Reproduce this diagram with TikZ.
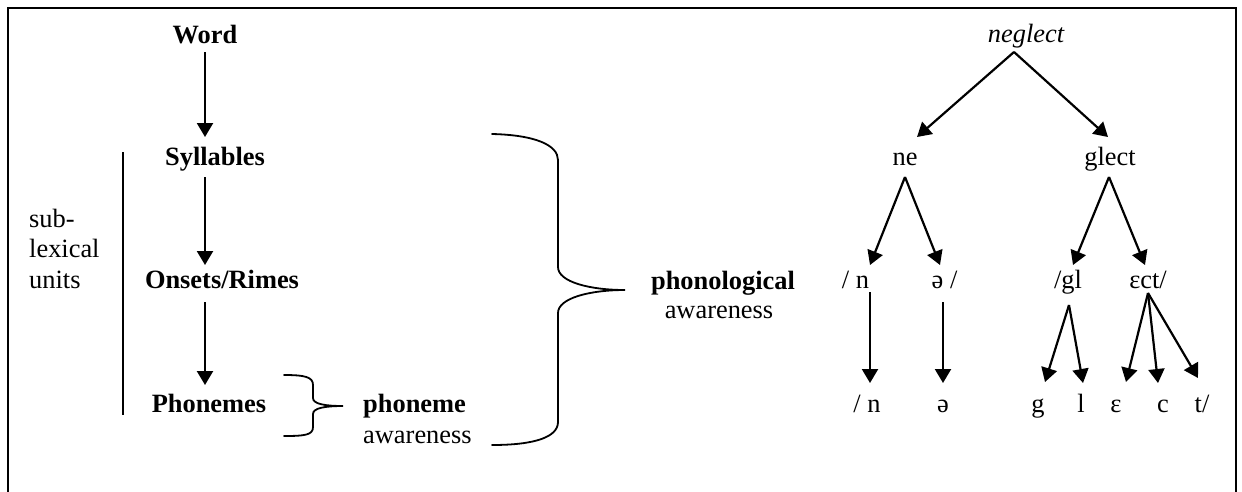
\documentclass[tikz,border=0pt]{standalone}
\usepackage{fontspec}
\setmainfont{Liberation Serif}
\usetikzlibrary{arrows.meta}
\begin{document}
\begin{tikzpicture}[x=1pt,y=-1pt,
  font=\fontsize{26.4}{30}\selectfont,
  arr/.style={line width=2.2pt,-{Triangle[width=16pt,length=14pt]}},
  lbl/.style={anchor=base,inner sep=0pt},
  lblw/.style={anchor=base west,inner sep=0pt},
  bracestyle/.style={line width=1.8pt,line cap=round}]
\useasboundingbox (0,0) rectangle (1242,491);
\draw[line width=2pt] (8,495) -- (8,8) -- (1236,8) -- (1236,495);

% left hierarchy
\node[lbl] (word) at (205,43) {\bfseries Word};
\node[lbl] (syl) at (215,165) {\bfseries Syllables};
\node[lbl] (ons) at (222,288) {\bfseries Onsets/Rimes};
\node[lbl] (phon) at (209,412) {\bfseries Phonemes};
\draw[arr] ([yshift=-9pt]word.base) -- ([xshift=-10pt,yshift=28pt]syl.base);
\draw[arr] ([xshift=-10pt,yshift=-12pt]syl.base) -- ([xshift=-17pt,yshift=23pt]ons.base);
\draw[arr] ([xshift=-17pt,yshift=-14pt]ons.base) -- ([xshift=-4pt,yshift=27pt]phon.base);

\draw[line width=1.4pt] (123,152) -- (123,415);
\node[lblw] (sub1) at (29,227) {sub-};
\node[lblw] (sub2) at (29,257) {lexical};
\node[lblw] (sub3) at (29,288) {units};

% small brace
\draw[bracestyle] (284,375) .. controls (305,375) and (313,377) .. (313,385)
  -- (313,398) .. controls (313,404) and (325,406) .. (343,406)
  .. controls (325,406) and (313,408) .. (313,414)
  -- (313,427) .. controls (313,435) and (305,436) .. (284,436);
\node[lblw] (pa1) at (363,412) {\bfseries phoneme};
\node[lblw] (pa2) at (363,443) {awareness};

% large brace
\draw[bracestyle] (492,134) .. controls (535,135) and (558,145) .. (558,160)
  -- (558,267) .. controls (558,282) and (590,290) .. (625,290)
  .. controls (590,290) and (558,298) .. (558,313)
  -- (558,422) .. controls (558,437) and (535,445) .. (492,445);
\node[lbl] (pl1) at (723,289) {\bfseries phonological};
\node[lbl] (pl2) at (719,318) {awareness};

% right tree
\node[lbl] (neg) at (1026,42) {\itshape neglect};
\node[lbl] (ne) at (905,165) {ne};
\node[lbl] (glect) at (1110,165) {glect};
\node[lbl] (n1) at (855.5,288) {/ n};
\node[lbl] (s1) at (944.5,288) {ə /};
\node[lbl] (gl) at (1068,288) {/gl};
\node[lbl] (ect) at (1148,288) {ɛct/};
\node[lbl] (n2) at (867,412) {/ n};
\node[lbl] (s2) at (943,412) {ə};
\node[lbl] (g) at (1038,412) {g};
\node[lbl] (l) at (1081,412) {l};
\node[lbl] (e) at (1116,412) {ɛ};
\node[lbl] (c) at (1163,412) {c};
\node[lbl] (t) at (1202,412) {t/};

\draw[arr] ([xshift=-12pt,yshift=-10pt]neg.base) -- ([xshift=12pt,yshift=28pt]ne.base);
\draw[arr] ([xshift=-12pt,yshift=-10pt]neg.base) -- ([xshift=-2pt,yshift=28pt]glect.base);
\draw[arr] ([yshift=-12pt]ne.base) -- ([xshift=14.5pt,yshift=23pt]n1.base);
\draw[arr] ([yshift=-12pt]ne.base) -- ([xshift=-4.5pt,yshift=23pt]s1.base);
\draw[arr] ([xshift=-1pt,yshift=-12pt]glect.base) -- ([xshift=5pt,yshift=23pt]gl.base);
\draw[arr] ([xshift=-1pt,yshift=-12pt]glect.base) -- ([xshift=-3pt,yshift=23pt]ect.base);
\draw[arr] ([xshift=14.5pt,yshift=-4pt]n1.base) -- ([xshift=3pt,yshift=29pt]n2.base);
\draw[arr] ([xshift=-1.5pt,yshift=-14pt]s1.base) -- ([yshift=29pt]s2.base);
\draw[arr] ([xshift=1pt,yshift=-17pt]gl.base) -- ([xshift=7pt,yshift=30pt]g.base);
\draw[arr] ([xshift=1pt,yshift=-17pt]gl.base) -- ([xshift=2pt,yshift=29pt]l.base);
\draw[arr] ([yshift=-5pt]ect.base) -- ([xshift=10pt,yshift=30pt]e.base);
\draw[arr] ([yshift=-5pt]ect.base) -- ([xshift=-5pt,yshift=29pt]c.base);
\draw[arr] ([yshift=-5pt]ect.base) -- ([xshift=-4pt,yshift=34pt]t.base);
\end{tikzpicture}
\end{document}
